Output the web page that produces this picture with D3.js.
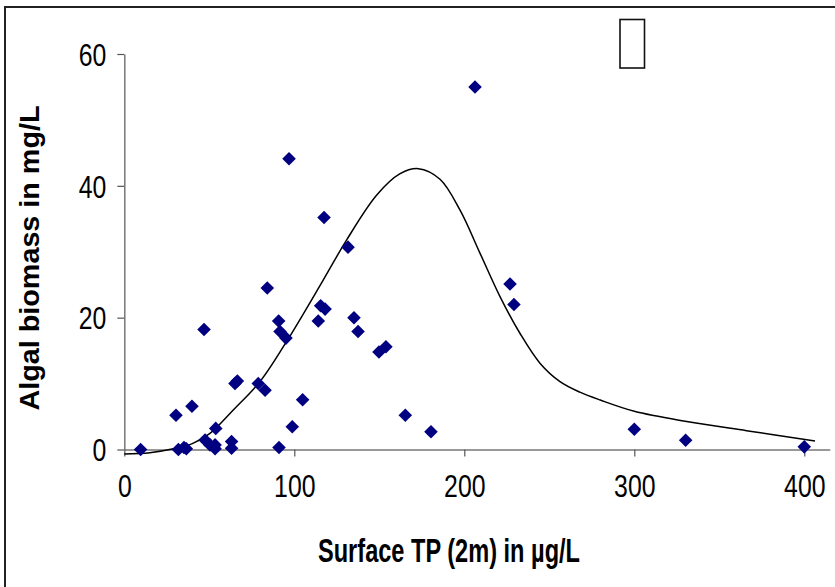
<!DOCTYPE html>
<html>
<head>
<meta charset="utf-8">
<script src="https://cdn.jsdelivr.net/npm/d3@7"></script>
<style>
  html, body { margin: 0; padding: 0; background: #fff; }
  svg { display: block; }
</style>
</head>
<body>
<svg id="chart" width="835" height="587"></svg>
<script>
// ---- data ----
const tpValues = [9.6, 30.4, 39.8, 31.8, 35.1, 36.5, 47.5, 53.8, 50.4, 53.4, 53.4, 63.1, 63.1,
  66.5, 65.1, 78.8, 82.8, 91.0, 98.8, 104.9, 84.1, 46.9, 90.8, 91.6, 95.1, 115.5, 118.1, 114.1,
  135.1, 137.5, 149.8, 153.9, 165.3, 180.4, 96.9, 117.5, 131.6, 206.3, 226.9, 229.2, 300.0, 330.2, 400.0];
const biomassValues = [0.0, 5.2, 6.55, 0.0, 0.3, 0.1, 1.45, 3.2, 0.7, 0.7, 0.1, 1.2, 0.2,
  10.4, 10.0, 10.0, 9.0, 0.3, 3.45, 7.55, 24.5, 18.2, 19.5, 17.9, 16.9, 21.8, 21.3, 19.5,
  20.0, 17.9, 14.8, 15.6, 5.2, 2.7, 44.1, 35.2, 30.7, 55.0, 25.1, 22.0, 3.07, 1.4, 0.4];
const fitTP = [0, 15, 28.8, 40, 50.4, 64.1, 79.8, 95.5, 117, 130.8, 148.5, 162, 173, 185.7,
  197.5, 209.2, 221, 232.8, 244.5, 256.3, 268, 280, 300, 330.8, 366, 406.3];
const fitBiomass = [-0.7, -0.5, 0.1, 0.9, 2.45, 6.0, 10.3, 16.4, 25.7, 31.8, 38.6, 41.8, 42.6, 41.0,
  36.3, 29.8, 23.2, 17.6, 13.1, 10.3, 8.7, 7.5, 5.8, 4.25, 2.85, 1.3];
const xTicks = [0, 100, 200, 300, 400];
const yTicks = [0, 20, 40, 60];
const xTitle = "Surface TP (2m) in µg/L";
const yTitle = "Algal biomass in mg/L";

// ---- drawing ----
const svg = d3.select("#chart");
const x = d3.scaleLinear().domain([0, 415]).range([124.3, 829.8]);
const y = d3.scaleLinear().domain([0, 60]).range([449.5, 54]);
const tickFont = "'Liberation Sans', Arial, sans-serif";

// outer frame
svg.append("rect").attr("x", 5).attr("y", 7).attr("width", 900).attr("height", 700)
  .attr("fill", "none").attr("stroke", "#222").attr("stroke-width", 2);

// missing-glyph box
svg.append("rect").attr("x", 620).attr("y", 19.5).attr("width", 24.5).attr("height", 48.5)
  .attr("fill", "none").attr("stroke", "#111").attr("stroke-width", 1.6);

// axes
const xAxis = svg.append("g").attr("transform", `translate(0,${y(0)})`)
  .call(d3.axisBottom(x).tickValues(xTicks).tickSize(7).tickSizeOuter(0).tickPadding(18));
const yAxis = svg.append("g").attr("transform", `translate(${x(0)},0)`)
  .call(d3.axisLeft(y).tickValues(yTicks).tickSize(7).tickSizeOuter(0).tickPadding(11));
[xAxis, yAxis].forEach(g => {
  g.select(".domain").attr("stroke", "#777").attr("stroke-width", 1.5);
  g.selectAll(".tick line").attr("stroke", "#555").attr("stroke-width", 1.2);
  g.selectAll(".tick text").attr("fill", "#000").attr("font-family", tickFont)
    .attr("font-size", 32)
    .attr("textLength", d => String(d).length * 13.8)
    .attr("lengthAdjust", "spacingAndGlyphs");
});
xAxis.selectAll(".tick text").attr("dy", "0.71em");
yAxis.selectAll(".tick text").attr("dy", "0.35em");

// fitted curve
const fit = fitTP.map((t, i) => [t, fitBiomass[i]]);
svg.append("path").datum(fit)
  .attr("fill", "none").attr("stroke", "#000").attr("stroke-width", 1.5)
  .attr("d", d3.line().x(d => x(d[0])).y(d => y(d[1])).curve(d3.curveCatmullRom.alpha(0.5)));

// points
const pts = tpValues.map((t, i) => [t, biomassValues[i]]);
const diamond = d3.symbol().type(d3.symbolSquare).size(92);
svg.append("g").selectAll("path").data(pts).join("path")
  .attr("d", diamond)
  .attr("transform", d => `translate(${x(d[0])},${y(d[1])}) rotate(45)`)
  .attr("fill", "#000080");

// titles
svg.append("text").text(xTitle)
  .attr("x", 449).attr("y", 562).attr("text-anchor", "middle")
  .attr("font-family", tickFont).attr("font-weight", "bold").attr("font-size", 33)
  .attr("textLength", 262).attr("lengthAdjust", "spacingAndGlyphs");
svg.append("text").text(yTitle)
  .attr("transform", "translate(39,258) rotate(-90)").attr("text-anchor", "middle")
  .attr("font-family", tickFont).attr("font-weight", "bold").attr("font-size", 27)
  .attr("textLength", 305).attr("lengthAdjust", "spacingAndGlyphs");
</script>
</body>
</html>
